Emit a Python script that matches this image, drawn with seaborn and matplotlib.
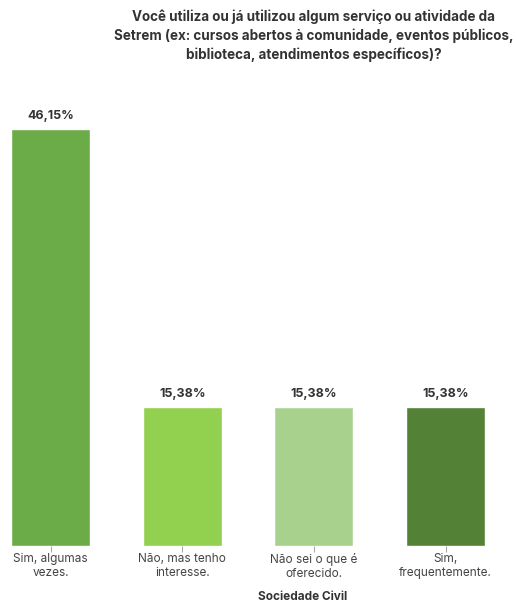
import pandas as pd
import seaborn as sns
import matplotlib.pyplot as plt

# chart data
categorias = ["Sim, algumas\nvezes.", "Não, mas tenho\ninteresse.", "Não sei o que é\noferecido.", "Sim,\nfrequentemente."]
valores = [46.15, 15.38, 15.38, 15.38]
cores = ["#6cac48", "#92d050", "#a9d18e", "#538135"]
titulo = ("Você utiliza ou já utilizou algum serviço ou atividade da\n"
          "Setrem (ex: cursos abertos à comunidade, eventos públicos,\n"
          "biblioteca, atendimentos específicos)?")
eixo_x = "Sociedade Civil"

df = pd.DataFrame({"categoria": categorias, "valor": valores})

sns.set_style("white")
plt.rcParams["font.family"] = ["Inter", "DejaVu Sans"]

fig = plt.figure(figsize=(5.17, 6.02), dpi=100)
ax = fig.add_axes([11 / 517, 56 / 602, 474 / 517, 452 / 602])

sns.barplot(data=df, x="categoria", y="valor", hue="categoria", palette=cores,
            width=0.6, legend=False, ax=ax, saturation=1)

for p, v in zip(ax.patches, valores):
    ax.annotate(f"{v:.2f}%".replace(".", ","), (p.get_x() + p.get_width() / 2, p.get_height()),
                xytext=(0, 5), textcoords="offset points", ha="center", va="bottom",
                fontsize=9, fontweight="bold", color="#333333")

ax.set_xlim(-0.3, 3.3)
ax.set_ylim(0, 50)
ax.set_yticks([])
ax.set_xlabel("")
ax.set_ylabel("")
for s in ax.spines.values():
    s.set_visible(False)
ax.tick_params(axis="x", bottom=True, length=4, width=0.8, color="#aaaaaa", labelsize=8.5,
               labelcolor="#444444", pad=1)

fig.text(314 / 517, 1 - 10 / 602, titulo, ha="center", va="top", fontsize=9.7,
         fontweight="bold", color="#333333", linespacing=1.35)
fig.text(303 / 517, 1 - 597 / 602, eixo_x, ha="center", va="center", fontsize=8.5,
         fontweight="bold", color="#333333")

fig.savefig("out.png", dpi=100)
